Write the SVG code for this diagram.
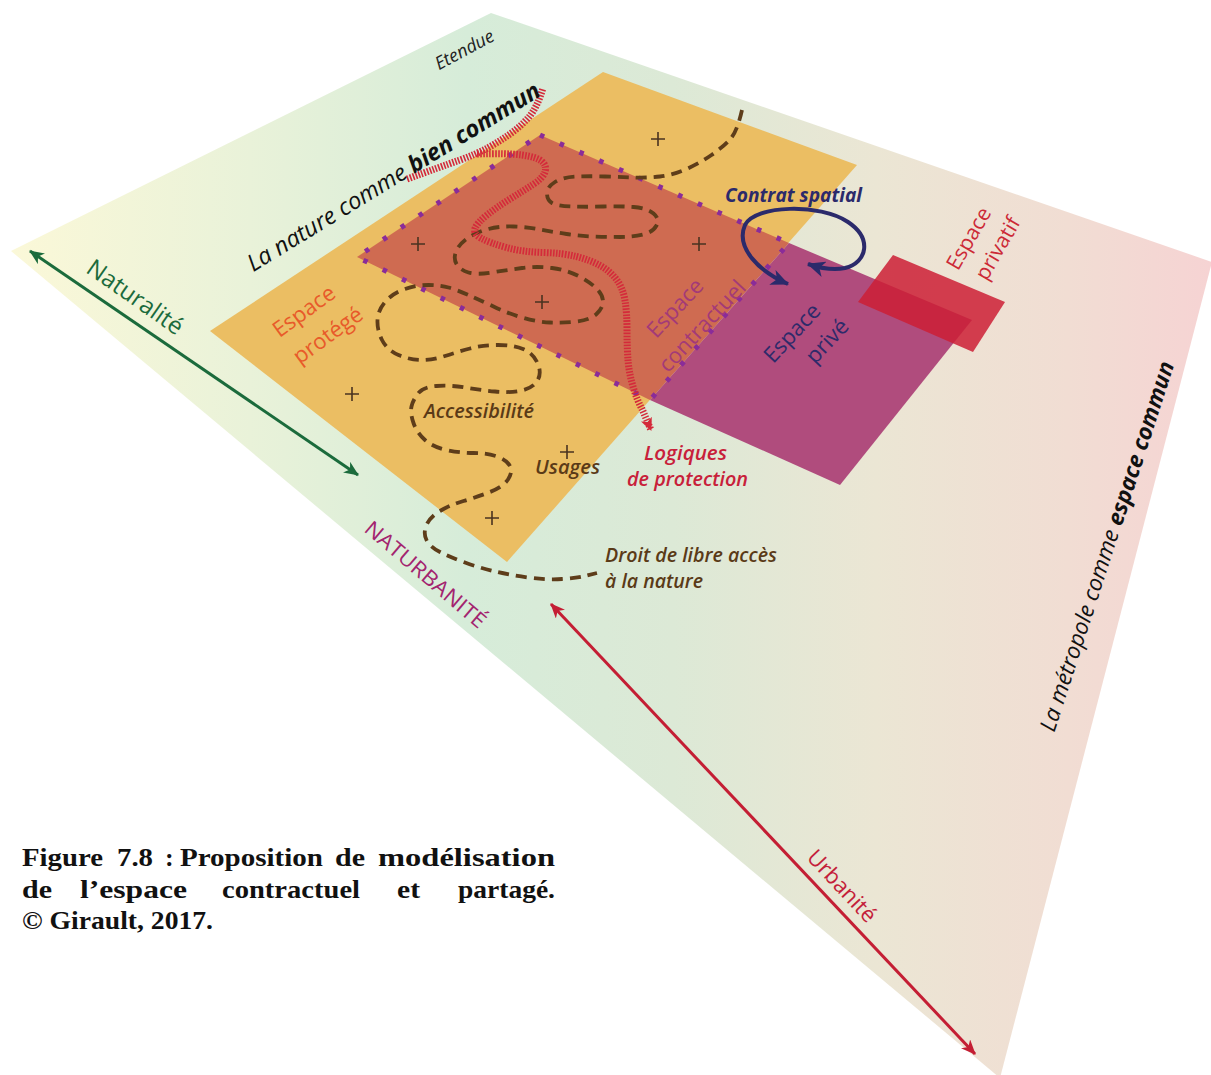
<svg xmlns="http://www.w3.org/2000/svg" width="1211" height="1075" viewBox="0 0 1211 1075">
<defs>
<linearGradient id="bg" x1="10" y1="0" x2="1212" y2="0" gradientUnits="userSpaceOnUse">
<stop offset="0" stop-color="#fbf8d8"/>
<stop offset="0.2" stop-color="#e9f2d9"/>
<stop offset="0.38" stop-color="#d6ecd9"/>
<stop offset="0.55" stop-color="#dce9d6"/>
<stop offset="0.72" stop-color="#ebe6d4"/>
<stop offset="0.88" stop-color="#f1ddd3"/>
<stop offset="1" stop-color="#f6d3d3"/>
</linearGradient>
<marker id="ahG" viewBox="0 0 14 12" refX="13" refY="6" markerWidth="15" markerHeight="13" markerUnits="userSpaceOnUse" orient="auto-start-reverse"><path d="M0,0 L14,6 L0,12 L4,6 z" fill="#1b6b3c"/></marker>
<marker id="ahR" viewBox="0 0 14 12" refX="13" refY="6" markerWidth="15" markerHeight="13" markerUnits="userSpaceOnUse" orient="auto-start-reverse"><path d="M0,0 L14,6 L0,12 L4,6 z" fill="#c41e34"/></marker>
<marker id="ahN" viewBox="0 0 18 16" refX="17" refY="8" markerWidth="18" markerHeight="16" markerUnits="userSpaceOnUse" orient="auto-start-reverse"><path d="M0,0 L18,8 L0,16 L5,8 z" fill="#2b2a6b"/></marker>
<marker id="ahH" viewBox="0 0 12 11" refX="11" refY="5.5" markerWidth="13" markerHeight="12" markerUnits="userSpaceOnUse" orient="auto"><path d="M0,0 L12,5.5 L0,11 L3,5.5 z" fill="#d42a3a"/></marker>
</defs>
<style>
.t { font-family: "Open Sans", "Noto Sans", "DejaVu Sans", sans-serif; }
.it { font-style: italic; }
.b { font-weight: bold; }
.sb { font-weight: 600; }
.brown { fill: #5a3a17; }
.plus { stroke: #4a3320; stroke-width: 1.6; fill: none; }
.cap { font-family: "Liberation Serif", "Times New Roman", serif; font-weight: bold; font-size: 26px; fill: #111; }
.dots { fill: none; stroke: #8a2c99; stroke-width: 5; stroke-dasharray: 4.5 17; }
.hatch { fill: none; stroke: #d42a3a; stroke-width: 7; stroke-dasharray: 1.6 1.4; }
</style>

<g id="background">
<polygon points="491,13 1212,262 1000,1078 11,251" fill="url(#bg)"/>
</g>

<g id="espace-protege-zone">
<polygon points="603,72 857,165 507,562 210,331" fill="#ebbe63"/>
</g>
<g id="espace-contractuel-zone">
<polygon points="540,135 789,243 650,400 357,257" fill="#cf6b51"/>
</g>
<g id="espace-prive-zone">
<polygon points="789,243 972,320 840,485 650,400" fill="#b04c7d"/>
</g>
<g id="espace-privatif-zone">
<polygon points="858,302 893,255 1005,302 973,352" fill="#cc1f35" fill-opacity="0.85"/>
</g>
<g id="contract-border">
<polygon class="dots" points="540,135 789,243 650,400 357,257"/>
</g>

<g id="connectors">
<path id="accessibilite-path" fill="none" stroke="#5e3d1a" stroke-width="3.8" stroke-dasharray="11 7" d="M742,110 Q737,132 730,139.5 Q723,147 711.5,155 Q700,163 686.5,169 Q673,175 660,176.5 Q647,178 633.5,177.5 Q620,177 605,176.5 Q590,176 576.5,176.5 Q563,177 555,182 Q547,187 547,193.5 Q547,200 552,203 Q557,206 572,206.5 Q587,207 603.5,206.5 Q620,206 633.5,207 Q647,208 653.5,213.5 Q660,219 656.5,225.5 Q653,232 643,234.5 Q633,237 620,237 Q607,237 593.5,236.5 Q580,236 566.5,234 Q553,232 540,229.5 Q527,227 513.5,226.5 Q500,226 488.5,229 Q477,232 468.5,237.5 Q460,243 456.5,250.5 Q453,258 456.5,264 Q460,270 468.5,272.5 Q477,275 492,272.5 Q507,270 522,268 Q537,266 552,268 Q567,270 578.5,276 Q590,282 596.5,288.5 Q603,295 603,301.5 Q603,308 596.5,314 Q590,320 576.5,321.5 Q563,323 550,322.5 Q537,322 522,317.5 Q507,313 493.5,306.5 Q480,300 468.5,295 Q457,290 448.5,287.5 Q440,285 428.5,285 Q417,285 405,289 Q393,293 385.5,301.5 Q378,310 377.5,320 Q377,330 382,340 Q387,350 398.5,355 Q410,360 421.5,360 Q433,360 445,356 Q457,352 470,348.5 Q483,345 498,345 Q513,345 523,349 Q533,353 537.5,363 Q542,373 537.5,380.5 Q533,388 521.5,390.5 Q510,393 495,391.5 Q480,390 465,387.5 Q450,385 436.5,386 Q423,387 418,393.5 Q413,400 411.5,406.5 Q410,413 413.5,423 Q417,433 425,440 Q433,447 446.5,450 Q460,453 473.5,453 Q487,453 497,456.5 Q507,460 510,466 Q513,472 508,479.5 Q503,487 490,492 Q477,497 463.5,501 Q450,505 440,511 Q430,517 426.5,525 Q423,533 426.5,540 Q430,547 440,552 Q450,557 465,562.5 Q480,568 495,571.5 Q510,575 528.5,577.5 Q547,580 562,579 Q577,578 587,575.5 L597,573"/>
<path id="plus-marks" class="plus" d="M651,139 h14 M658,132 v14 M411,244 h14 M418,237 v14 M692,244 h14 M699,237 v14 M535,302 h14 M542,295 v14 M345,394 h14 M352,387 v14 M560,452 h14 M567,445 v14 M485,518 h14 M492,511 v14"/>
<path id="bien-commun-path" class="hatch" d="M407,179 Q440,167 458.5,160.5 Q477,154 488.5,147.5 Q500,141 510,134 Q520,127 528.5,117.5 Q537,108 543,88"/>
<path id="protection-path" class="hatch" marker-end="url(#ahH)" d="M477,154 Q507,153 522,155 Q537,157 542,161.5 Q547,166 545,172 Q543,178 533,184.5 Q523,191 510,199 Q497,207 487,215 Q477,223 475,228.5 Q473,234 481.5,238.5 Q490,243 506.5,247.5 Q523,252 543,252.5 Q563,253 576.5,256.5 Q590,260 600,265.5 Q610,271 616.5,279.5 Q623,288 625,300.5 Q627,313 627,330 Q627,347 628,360 Q629,373 633,386.5 Q637,400 642,409 L651,430"/>
<path id="contrat-spatial-arrow" fill="none" stroke="#2b2a6b" stroke-width="4" marker-start="url(#ahN)" marker-end="url(#ahN)" d="M788,284 C760,272 735,248 745,225 C755,205 820,203 848,222 C872,238 868,262 845,268 C832,271 820,268 808,264"/>
<line id="naturalite-axis" x1="30" y1="251" x2="358" y2="475" stroke="#1b6b3c" stroke-width="3" marker-start="url(#ahG)" marker-end="url(#ahG)"/>
<line id="urbanite-axis" x1="551" y1="604" x2="975" y2="1054" stroke="#c41e34" stroke-width="3" marker-start="url(#ahR)" marker-end="url(#ahR)"/>
</g>

<g id="label-etendue"><text class="t it" font-size="18" fill="#222" text-anchor="middle" dominant-baseline="central" transform="translate(464,49) rotate(-28)">Etendue</text></g>
<g id="label-bien-commun"><text class="t it" font-size="23.5" fill="#111" text-anchor="middle" dominant-baseline="central" transform="translate(393,176) rotate(-31.5)">La nature comme <tspan class="b">bien commun</tspan></text></g>
<g id="label-naturalite"><text class="t" font-size="24" fill="#1b6b3c" text-anchor="middle" dominant-baseline="central" transform="translate(136,296) rotate(35)">Naturalité</text></g>
<g id="label-espace-protege">
<text class="t" font-size="22" fill="#e85a2a" text-anchor="middle" dominant-baseline="central" transform="translate(303,310) rotate(-36)">Espace</text>
<text class="t" font-size="22" fill="#e85a2a" text-anchor="middle" dominant-baseline="central" transform="translate(327,334) rotate(-36)">protégé</text>
</g>
<g id="label-espace-contractuel">
<text class="t" font-size="22" fill="#a33a78" text-anchor="middle" dominant-baseline="central" transform="translate(674,307) rotate(-47)">Espace</text>
<text class="t" font-size="22" fill="#a33a78" text-anchor="middle" dominant-baseline="central" transform="translate(701,325) rotate(-47)">contractuel</text>
</g>
<g id="label-espace-prive">
<text class="t" font-size="22" fill="#2e2a6a" text-anchor="middle" dominant-baseline="central" transform="translate(791,332) rotate(-47)">Espace</text>
<text class="t" font-size="22" fill="#2e2a6a" text-anchor="middle" dominant-baseline="central" transform="translate(826,340) rotate(-47)">privé</text>
</g>
<g id="label-espace-privatif">
<text class="t" font-size="21" fill="#cc2936" text-anchor="middle" dominant-baseline="central" transform="translate(968,238) rotate(-60)">Espace</text>
<text class="t" font-size="21" fill="#cc2936" text-anchor="middle" dominant-baseline="central" transform="translate(997,248) rotate(-60)">privatif</text>
</g>
<g id="label-contrat-spatial"><text class="t it b" font-size="19" fill="#2b2a6b" x="725" y="202" textLength="137" lengthAdjust="spacingAndGlyphs">Contrat spatial</text></g>
<g id="label-logiques">
<text class="t it sb" font-size="19" fill="#c8203a" x="644" y="460" textLength="83" lengthAdjust="spacingAndGlyphs">Logiques</text>
<text class="t it sb" font-size="19" fill="#c8203a" x="627" y="486" textLength="121" lengthAdjust="spacingAndGlyphs">de protection</text>
</g>
<g id="label-accessibilite"><text class="t it sb brown" font-size="19" x="424" y="418" textLength="110" lengthAdjust="spacingAndGlyphs">Accessibilité</text></g>
<g id="label-usages"><text class="t it sb brown" font-size="19" x="535" y="474" textLength="65" lengthAdjust="spacingAndGlyphs">Usages</text></g>
<g id="label-droit">
<text class="t it sb brown" font-size="19" x="605" y="562" textLength="172" lengthAdjust="spacingAndGlyphs">Droit de libre accès</text>
<text class="t it sb brown" font-size="19" x="605" y="588" textLength="98" lengthAdjust="spacingAndGlyphs">à la nature</text>
</g>
<g id="label-naturbanite"><text class="t" font-size="21" fill="#a3246f" text-anchor="middle" dominant-baseline="central" transform="translate(426,574) rotate(40.5)" textLength="152" lengthAdjust="spacingAndGlyphs">NATURBANITÉ</text></g>
<g id="label-urbanite"><text class="t" font-size="22" fill="#c41e3a" text-anchor="middle" dominant-baseline="central" transform="translate(843,885) rotate(47)">Urbanité</text></g>
<g id="label-metropole"><text class="t it" font-size="22.5" fill="#111" text-anchor="middle" dominant-baseline="central" transform="translate(1106,546) rotate(-72)">La métropole comme <tspan class="b">espace commun</tspan></text></g>

<g id="caption">
<text class="cap" x="22" y="866" textLength="81" lengthAdjust="spacingAndGlyphs">Figure</text>
<text class="cap" x="117" y="866" textLength="36" lengthAdjust="spacingAndGlyphs">7.8</text>
<text class="cap" x="165" y="866">:</text>
<text class="cap" x="180" y="866" textLength="143" lengthAdjust="spacingAndGlyphs">Proposition</text>
<text class="cap" x="335" y="866" textLength="30" lengthAdjust="spacingAndGlyphs">de</text>
<text class="cap" x="378" y="866" textLength="177" lengthAdjust="spacingAndGlyphs">modélisation</text>
<text class="cap" x="22" y="898" textLength="30" lengthAdjust="spacingAndGlyphs">de</text>
<text class="cap" x="80" y="898" textLength="107" lengthAdjust="spacingAndGlyphs">l’espace</text>
<text class="cap" x="222" y="898" textLength="138" lengthAdjust="spacingAndGlyphs">contractuel</text>
<text class="cap" x="397" y="898" textLength="23" lengthAdjust="spacingAndGlyphs">et</text>
<text class="cap" x="458" y="898" textLength="97" lengthAdjust="spacingAndGlyphs">partagé.</text>
<text class="cap" x="22" y="929" textLength="191" lengthAdjust="spacingAndGlyphs">© Girault, 2017.</text>
</g>
</svg>
